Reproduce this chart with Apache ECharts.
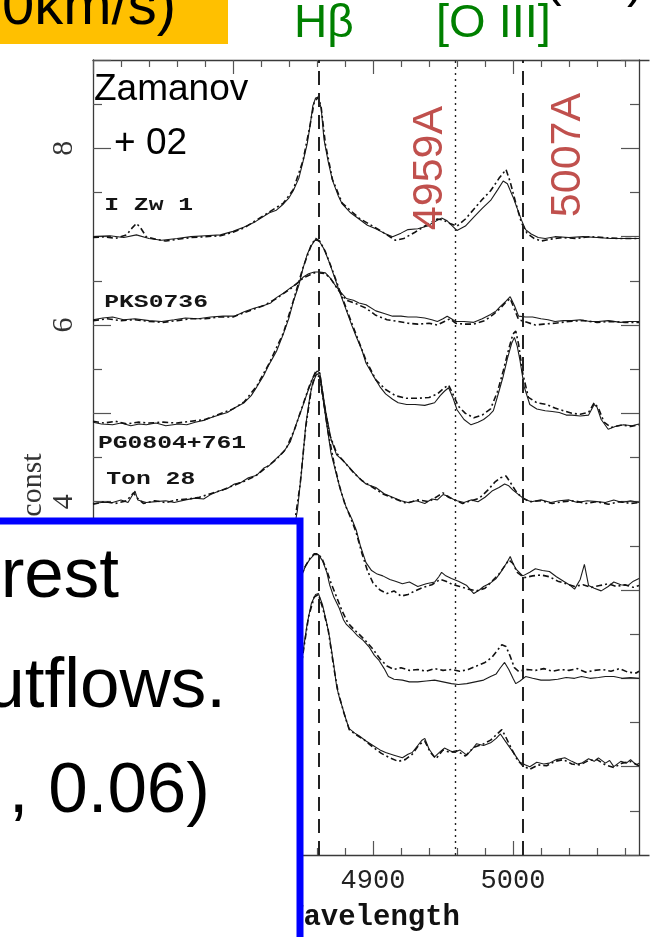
<!DOCTYPE html>
<html><head><meta charset="utf-8">
<script src="https://cdn.jsdelivr.net/npm/echarts@6/dist/echarts.min.js"></script>
<style>html,body{margin:0;padding:0;background:#fff}#c{width:653px;height:937px}</style>
</head><body><div id="c"></div>
<script>
// ---- data (wavelength in Angstrom, flux + const) ----
const iZw1Solid = [[4700,7.00],[4712,7.01],[4722,6.99],[4731,7.02],[4740,6.98],[4749,6.96],[4760,6.98],[4770,7.00],[4780,7.01],[4791,7.02],[4800,7.06],[4808,7.11],[4816,7.17],[4826,7.27],[4831,7.30],[4836,7.37],[4840,7.44],[4843,7.52],[4847,7.66],[4850,7.85],[4853,8.05],[4855,8.25],[4857,8.48],[4859,8.57],[4861,8.58],[4863,8.45],[4865,8.10],[4868,7.85],[4871,7.64],[4875,7.47],[4878,7.37],[4884,7.27],[4890,7.20],[4896,7.13],[4902,7.09],[4908,7.04],[4914,7.00],[4920,7.04],[4925,7.08],[4932,7.09],[4939,7.12],[4944,7.17],[4949,7.21],[4953,7.18],[4956,7.13],[4960,7.07],[4966,7.12],[4972,7.22],[4978,7.32],[4984,7.41],[4989,7.53],[4993,7.63],[4996,7.60],[5000,7.45],[5003,7.32],[5006,7.19],[5009,7.08],[5013,7.03],[5018,6.99],[5023,6.98],[5030,7.00],[5040,6.99],[5050,7.00],[5060,6.99],[5070,6.98],[5080,6.98],[5090,6.98]];
const iZw1Dash = [[4700,6.99],[4708,7.00],[4716,6.98],[4724,7.02],[4728,7.10],[4731,7.15],[4734,7.10],[4738,7.00],[4745,6.97],[4752,6.95],[4760,6.97],[4770,6.99],[4780,7.00],[4791,7.01],[4800,7.05],[4808,7.10],[4816,7.18],[4826,7.28],[4836,7.38],[4843,7.53],[4850,7.86],[4855,8.26],[4858,8.52],[4861,8.58],[4863,8.46],[4866,8.05],[4871,7.65],[4878,7.38],[4890,7.21],[4902,7.10],[4910,7.02],[4916,6.96],[4922,6.98],[4930,7.05],[4939,7.14],[4946,7.20],[4950,7.19],[4955,7.15],[4960,7.12],[4966,7.20],[4972,7.31],[4978,7.42],[4984,7.52],[4990,7.66],[4995,7.76],[4998,7.62],[5002,7.38],[5006,7.16],[5010,7.04],[5015,6.98],[5020,6.95],[5026,6.97],[5035,6.99],[5045,6.98],[5055,7.00],[5065,6.99],[5075,6.98],[5090,6.98]];
const pksSolid = [[4700,6.06],[4707,6.08],[4714,6.09],[4722,6.06],[4730,6.07],[4740,6.05],[4749,6.04],[4758,6.06],[4766,6.08],[4775,6.07],[4784,6.09],[4793,6.10],[4801,6.10],[4808,6.15],[4815,6.19],[4822,6.22],[4827,6.25],[4831,6.31],[4836,6.36],[4841,6.42],[4846,6.47],[4850,6.54],[4854,6.58],[4858,6.60],[4862,6.60],[4866,6.59],[4869,6.54],[4873,6.45],[4877,6.37],[4881,6.30],[4886,6.28],[4890,6.25],[4895,6.23],[4902,6.16],[4908,6.13],[4914,6.10],[4920,6.10],[4925,6.09],[4931,6.09],[4937,6.08],[4942,6.06],[4946,6.04],[4950,6.07],[4953,6.10],[4956,6.07],[4959,6.04],[4965,6.04],[4972,6.03],[4978,6.07],[4984,6.12],[4988,6.16],[4991,6.21],[4995,6.27],[4998,6.32],[5001,6.22],[5004,6.10],[5009,6.09],[5014,6.09],[5020,6.07],[5025,6.06],[5030,6.04],[5036,6.05],[5042,6.05],[5048,6.06],[5055,6.04],[5061,6.04],[5068,6.05],[5077,6.03],[5083,6.04],[5090,6.04]];
const pksDash = [[4700,6.05],[4710,6.07],[4720,6.05],[4730,6.06],[4740,6.04],[4750,6.03],[4760,6.05],[4770,6.07],[4780,6.07],[4790,6.09],[4800,6.09],[4808,6.14],[4815,6.18],[4822,6.22],[4831,6.30],[4841,6.41],[4850,6.53],[4858,6.59],[4862,6.59],[4866,6.58],[4870,6.52],[4875,6.40],[4881,6.28],[4888,6.24],[4895,6.19],[4902,6.11],[4910,6.06],[4918,6.04],[4925,6.02],[4932,6.01],[4940,6.02],[4946,6.00],[4951,6.04],[4955,6.07],[4959,6.02],[4965,6.01],[4972,6.01],[4980,6.05],[4986,6.12],[4991,6.19],[4995,6.26],[4998,6.30],[5001,6.18],[5004,6.06],[5010,6.03],[5016,6.00],[5022,6.01],[5030,6.02],[5040,6.04],[5050,6.05],[5060,6.03],[5070,6.04],[5080,6.03],[5090,6.03]];
const pg0804Solid = [[4700,4.90],[4706,4.88],[4714,4.87],[4720,4.89],[4727,4.86],[4733,4.88],[4738,4.87],[4745,4.89],[4752,4.86],[4761,4.88],[4767,4.87],[4773,4.90],[4779,4.92],[4784,4.95],[4790,4.98],[4796,5.01],[4802,5.07],[4808,5.12],[4813,5.20],[4817,5.30],[4822,5.43],[4826,5.56],[4831,5.70],[4836,5.90],[4840,6.08],[4843,6.26],[4847,6.45],[4850,6.64],[4853,6.80],[4856,6.90],[4859,6.97],[4862,6.94],[4865,6.86],[4869,6.70],[4873,6.52],[4876,6.38],[4879,6.25],[4882,6.12],[4885,5.99],[4888,5.87],[4892,5.72],[4895,5.57],[4900,5.43],[4905,5.30],[4909,5.22],[4914,5.16],[4918,5.12],[4924,5.10],[4930,5.10],[4937,5.09],[4944,5.12],[4948,5.20],[4951,5.25],[4954,5.29],[4957,5.18],[4960,5.04],[4965,4.93],[4970,4.87],[4975,4.90],[4979,4.93],[4983,4.98],[4986,5.03],[4990,5.25],[4993,5.42],[4996,5.62],[4999,5.79],[5001,5.86],[5003,5.76],[5005,5.60],[5008,5.30],[5012,5.10],[5017,5.05],[5023,5.03],[5028,5.02],[5033,5.01],[5038,4.98],[5042,4.98],[5048,4.97],[5054,4.98],[5058,5.10],[5060,5.07],[5063,4.93],[5068,4.82],[5073,4.85],[5079,4.87],[5085,4.86],[5090,4.88]];
const pg0804Dash = [[4700,4.91],[4708,4.89],[4716,4.91],[4724,4.88],[4732,4.90],[4740,4.89],[4750,4.90],[4760,4.89],[4770,4.91],[4780,4.93],[4790,4.99],[4800,5.05],[4808,5.13],[4817,5.31],[4826,5.57],[4836,5.91],[4843,6.27],[4850,6.65],[4856,6.91],[4859,6.98],[4862,6.95],[4866,6.83],[4871,6.62],[4876,6.40],[4882,6.14],[4888,5.89],[4895,5.60],[4902,5.38],[4909,5.27],[4916,5.20],[4924,5.17],[4932,5.17],[4940,5.18],[4946,5.22],[4951,5.29],[4954,5.32],[4957,5.22],[4961,5.08],[4966,5.00],[4972,4.95],[4978,4.98],[4984,5.05],[4989,5.25],[4993,5.48],[4997,5.73],[5000,5.90],[5002,5.93],[5004,5.78],[5007,5.45],[5011,5.18],[5017,5.12],[5024,5.10],[5030,5.06],[5036,5.03],[5042,5.00],[5048,4.99],[5054,5.01],[5058,5.12],[5061,5.06],[5065,4.90],[5070,4.84],[5078,4.87],[5084,4.85],[5090,4.87]];
const ton28Solid = [[4700,3.98],[4706,3.99],[4714,3.99],[4720,4.02],[4725,3.99],[4728,4.07],[4730,4.12],[4732,4.02],[4738,3.99],[4745,4.00],[4752,4.01],[4758,3.99],[4766,4.02],[4773,4.04],[4779,4.03],[4784,4.08],[4790,4.12],[4796,4.15],[4801,4.20],[4806,4.22],[4811,4.27],[4817,4.30],[4822,4.38],[4826,4.41],[4831,4.49],[4836,4.56],[4841,4.68],[4845,4.87],[4850,5.09],[4853,5.23],[4857,5.40],[4860,5.48],[4862,5.46],[4864,5.25],[4866,5.04],[4870,4.71],[4874,4.53],[4879,4.46],[4884,4.37],[4890,4.27],[4895,4.20],[4902,4.16],[4908,4.09],[4914,4.05],[4920,4.01],[4925,3.99],[4931,4.01],[4937,3.98],[4942,4.03],[4946,4.02],[4950,4.08],[4954,4.06],[4957,4.03],[4960,4.01],[4965,3.99],[4970,4.02],[4975,4.00],[4980,4.05],[4985,4.12],[4990,4.16],[4994,4.20],[4997,4.18],[5000,4.13],[5004,4.08],[5008,4.03],[5013,4.00],[5020,4.02],[5027,3.99],[5033,4.01],[5040,4.02],[5046,3.99],[5053,4.01],[5060,4.00],[5066,3.99],[5072,4.02],[5078,3.99],[5084,4.01],[5090,3.99]];
const ton28Dash = [[4700,3.97],[4708,4.00],[4716,3.98],[4724,4.01],[4729,4.10],[4731,4.05],[4736,3.98],[4744,4.01],[4752,3.99],[4760,4.02],[4768,4.03],[4776,4.05],[4784,4.09],[4792,4.13],[4800,4.18],[4808,4.23],[4816,4.29],[4824,4.39],[4831,4.48],[4838,4.60],[4844,4.82],[4850,5.10],[4855,5.33],[4859,5.47],[4862,5.45],[4865,5.12],[4869,4.76],[4874,4.55],[4880,4.44],[4886,4.33],[4892,4.24],[4900,4.16],[4908,4.08],[4916,4.03],[4924,3.98],[4932,4.02],[4940,4.00],[4946,4.06],[4950,4.10],[4954,4.05],[4958,4.02],[4964,3.98],[4970,4.01],[4976,4.04],[4982,4.13],[4987,4.22],[4991,4.27],[4995,4.29],[4998,4.22],[5002,4.12],[5006,4.05],[5012,4.00],[5020,4.01],[5028,3.98],[5036,4.00],[5044,4.01],[5052,3.98],[5060,4.00],[5068,3.97],[5076,4.00],[5084,3.98],[5090,3.99]];
const spec5Solid = [[4838,3.30],[4842,3.55],[4846,3.90],[4849,4.35],[4852,4.87],[4855,5.20],[4857,5.35],[4860,5.45],[4862,5.42],[4864,5.20],[4867,4.87],[4870,4.55],[4874,4.30],[4877,4.12],[4881,3.93],[4885,3.80],[4888,3.68],[4891,3.50],[4895,3.31],[4899,3.22],[4903,3.18],[4907,3.16],[4912,3.12],[4916,3.10],[4921,3.07],[4926,3.09],[4932,3.04],[4938,3.07],[4944,3.09],[4947,3.15],[4949,3.20],[4952,3.16],[4956,3.13],[4961,3.10],[4967,3.05],[4972,2.96],[4976,3.00],[4979,3.04],[4984,3.08],[4988,3.13],[4992,3.22],[4996,3.32],[4998,3.38],[5000,3.30],[5002,3.24],[5007,3.16],[5012,3.20],[5016,3.24],[5021,3.22],[5026,3.21],[5031,3.15],[5037,3.09],[5041,3.05],[5044,3.01],[5048,3.12],[5051,3.29],[5054,3.05],[5058,3.02],[5063,2.99],[5068,3.04],[5072,3.09],[5077,3.06],[5082,3.05],[5086,3.10],[5090,3.13]];
const spec5Dash = [[4838,3.28],[4843,3.65],[4848,4.20],[4852,4.85],[4856,5.28],[4859,5.44],[4862,5.41],[4865,5.10],[4868,4.78],[4872,4.45],[4876,4.18],[4880,3.97],[4884,3.82],[4888,3.65],[4892,3.42],[4896,3.22],[4900,3.08],[4905,3.00],[4910,2.96],[4915,2.99],[4920,2.93],[4925,2.95],[4930,2.99],[4936,3.03],[4942,3.06],[4948,3.12],[4952,3.10],[4957,3.06],[4962,3.04],[4968,3.01],[4974,2.99],[4980,3.02],[4985,3.10],[4990,3.18],[4994,3.27],[4997,3.34],[5000,3.30],[5003,3.20],[5008,3.14],[5014,3.16],[5020,3.17],[5026,3.15],[5032,3.10],[5038,3.07],[5044,3.04],[5050,3.06],[5056,3.03],[5062,3.05],[5068,3.07],[5074,3.04],[5080,3.06],[5086,3.03],[5090,3.05]];
const spec6Solid = [[4843,2.80],[4846,2.98],[4849,3.16],[4852,3.28],[4855,3.35],[4858,3.40],[4861,3.40],[4864,3.33],[4867,3.20],[4869,3.06],[4872,2.92],[4876,2.79],[4879,2.66],[4881,2.61],[4885,2.55],[4889,2.48],[4893,2.43],[4897,2.36],[4901,2.26],[4904,2.21],[4908,2.11],[4911,2.02],[4915,1.99],[4921,1.98],[4926,1.96],[4932,1.96],[4938,1.97],[4944,1.98],[4950,1.96],[4956,1.94],[4961,1.93],[4967,1.94],[4973,1.96],[4979,1.98],[4984,2.02],[4988,2.05],[4991,2.12],[4994,2.18],[4997,2.10],[5000,2.00],[5002,1.94],[5005,1.97],[5009,2.02],[5014,2.00],[5020,1.98],[5026,1.98],[5032,1.99],[5038,2.01],[5044,2.00],[5049,2.02],[5055,2.00],[5061,2.01],[5066,2.02],[5072,2.02],[5078,2.00],[5084,2.01],[5090,2.00]];
const spec6Dash = [[4843,2.80],[4847,3.05],[4851,3.25],[4855,3.36],[4858,3.41],[4861,3.41],[4864,3.34],[4867,3.22],[4870,3.08],[4874,2.92],[4878,2.76],[4882,2.63],[4886,2.56],[4890,2.50],[4895,2.42],[4900,2.33],[4905,2.22],[4910,2.14],[4915,2.10],[4920,2.12],[4926,2.09],[4932,2.10],[4938,2.08],[4944,2.11],[4950,2.09],[4956,2.10],[4962,2.08],[4968,2.10],[4974,2.14],[4980,2.18],[4985,2.24],[4989,2.32],[4992,2.38],[4995,2.36],[4998,2.25],[5001,2.12],[5004,2.08],[5010,2.10],[5016,2.09],[5022,2.11],[5028,2.08],[5034,2.10],[5040,2.09],[5046,2.11],[5052,2.07],[5058,2.09],[5064,2.10],[5070,2.08],[5076,2.11],[5082,2.07],[5088,2.06],[5090,2.08]];
const spec7Solid = [[4843,1.55],[4847,1.95],[4850,2.30],[4853,2.62],[4856,2.85],[4859,2.95],[4861,2.96],[4864,2.83],[4867,2.62],[4869,2.46],[4872,2.15],[4874,1.91],[4876,1.78],[4878,1.68],[4881,1.52],[4883,1.43],[4887,1.38],[4890,1.35],[4895,1.29],[4900,1.24],[4905,1.19],[4909,1.16],[4915,1.13],[4921,1.10],[4925,1.14],[4928,1.16],[4932,1.24],[4935,1.30],[4937,1.32],[4940,1.20],[4944,1.11],[4948,1.17],[4951,1.21],[4955,1.18],[4958,1.16],[4962,1.19],[4967,1.13],[4971,1.20],[4974,1.26],[4979,1.24],[4984,1.27],[4988,1.32],[4991,1.37],[4994,1.30],[4998,1.21],[5002,1.12],[5005,1.05],[5009,1.02],[5012,1.00],[5017,1.05],[5022,1.03],[5026,1.04],[5031,1.08],[5037,1.10],[5042,1.06],[5046,1.03],[5049,1.04],[5054,1.09],[5058,1.06],[5061,1.10],[5066,1.04],[5069,1.07],[5072,1.00],[5077,1.06],[5081,1.04],[5084,1.08],[5088,1.02],[5090,1.04]];
const spec7Dash = [[4843,1.50],[4847,1.92],[4850,2.28],[4854,2.70],[4858,2.92],[4861,2.95],[4864,2.80],[4868,2.55],[4872,2.12],[4875,1.85],[4879,1.62],[4883,1.42],[4888,1.36],[4894,1.30],[4900,1.22],[4906,1.15],[4912,1.10],[4918,1.06],[4923,1.08],[4928,1.14],[4933,1.25],[4937,1.29],[4941,1.16],[4945,1.09],[4950,1.19],[4955,1.16],[4960,1.18],[4966,1.12],[4972,1.22],[4978,1.25],[4984,1.30],[4988,1.36],[4992,1.42],[4995,1.33],[4999,1.20],[5003,1.08],[5007,1.01],[5012,0.97],[5018,1.02],[5024,1.01],[5030,1.06],[5036,1.08],[5042,1.03],[5048,1.02],[5054,1.07],[5060,1.08],[5066,1.02],[5072,0.99],[5078,1.04],[5084,1.06],[5090,1.01]];

const solidSeries = [iZw1Solid, pksSolid, pg0804Solid, ton28Solid, spec5Solid, spec6Solid, spec7Solid];
const dashSeries  = [iZw1Dash, pksDash, pg0804Dash, ton28Dash, spec5Dash, spec6Dash, spec7Dash];

// rest wavelengths of the marked lines
const lineWaves = [4861, 4959, 5007];

// object labels: name, wavelength, flux
const objNames = ['I Zw 1', 'PKS0736', 'PG0804+761', 'Ton 28'];
const objWave  = [4708, 4708, 4703.5, 4709.5];
const objFlux  = [7.36, 6.26, 4.66, 4.25];

// axis ranges
const xMin = 4700, xMax = 5100, xStep = 100;
const yMin = 0, yMax = 9, yStep = 1;

const chart = echarts.init(document.getElementById('c'), null, {renderer: 'canvas'});

const axisLineStyle = {color: '#3a3a3a', width: 1.3};
const tickStyle = {color: '#555', width: 1.2};

const series = [];
solidSeries.forEach((d) => series.push({
  type: 'line', data: d, showSymbol: false, symbol: 'none', silent: true,
  lineStyle: {color: '#1c1c1c', width: 1.1}, z: 3
}));
dashSeries.forEach((d) => series.push({
  type: 'line', data: d, showSymbol: false, symbol: 'none', silent: true,
  lineStyle: {color: '#111', width: 1.6, type: [6, 3, 2, 3]}, z: 3
}));
series.push({
  type: 'line', data: [], silent: true,
  markLine: {
    symbol: ['none', 'none'], silent: true, label: {show: false}, animation: false,
    data: [
      {xAxis: lineWaves[0], lineStyle: {color: '#222', width: 2, type: [14, 8]}},
      {xAxis: lineWaves[1], lineStyle: {color: '#222', width: 1.4, type: [2, 4]}},
      {xAxis: lineWaves[2], lineStyle: {color: '#222', width: 2, type: [14, 8]}}
    ]
  }
});
series.push({
  type: 'custom', silent: true, z: 4,
  data: objWave.map((w, i) => [w, objFlux[i]]),
  encode: {x: 0, y: 1},
  renderItem: (params, api) => {
    const p = api.coord([api.value(0), api.value(1)]);
    return {type: 'text', x: p[0], y: p[1], scaleX: 1.3,
      style: {text: objNames[params.dataIndex], font: 'bold 19px "Liberation Mono"', fill: '#151515', align: 'left', verticalAlign: 'middle'}};
  }
});

const monoTick = {fontFamily: 'Liberation Mono', fontSize: 27, color: '#222'};

chart.setOption({
  animation: false,
  backgroundColor: '#fff',
  grid: {left: 93, top: 60, width: 569, height: 812, containLabel: false},
  xAxis: [
    {type: 'value', position: 'bottom', min: xMin, max: xMax, interval: xStep,
      axisLine: {show: true, onZero: false, lineStyle: axisLineStyle},
      axisTick: {show: true, inside: true, length: 14, lineStyle: tickStyle},
      minorTick: {show: true, splitNumber: 5, length: 7, lineStyle: tickStyle},
      splitLine: {show: false}, minorSplitLine: {show: false},
      axisLabel: Object.assign({margin: 12, showMaxLabel: false, formatter: v => String(v)}, monoTick),
      name: 'Wavelength', nameLocation: 'middle', nameGap: 48,
      nameTextStyle: {fontFamily: 'Liberation Mono', fontWeight: 'bold', fontSize: 29, color: '#111'}},
    {type: 'value', position: 'top', min: xMin, max: xMax, interval: xStep,
      axisLine: {show: true, onZero: false, lineStyle: axisLineStyle},
      axisTick: {show: true, inside: true, length: 14, lineStyle: tickStyle},
      minorTick: {show: true, splitNumber: 5, length: 7, lineStyle: tickStyle},
      splitLine: {show: false}, axisLabel: {show: false}}
  ],
  yAxis: [
    {type: 'value', position: 'left', min: yMin, max: yMax, interval: yStep,
      axisLine: {show: true, onZero: false, lineStyle: axisLineStyle},
      axisTick: {show: true, inside: true, length: 18, lineStyle: tickStyle},
      minorTick: {show: true, splitNumber: 2, length: 9, lineStyle: tickStyle},
      splitLine: {show: false}, minorSplitLine: {show: false},
      axisLabel: {rotate: 90, margin: 14, fontFamily: 'Liberation Serif', fontSize: 30, color: '#333',
        formatter: v => (v % 2 === 0 && v > 0) ? String(v) : ''}},
    {type: 'value', position: 'right', offset: -14, min: yMin, max: yMax, interval: yStep,
      axisLine: {show: true, onZero: false, lineStyle: axisLineStyle},
      axisTick: {show: true, inside: true, length: 18, lineStyle: tickStyle},
      minorTick: {show: true, splitNumber: 2, length: 9, lineStyle: tickStyle},
      splitLine: {show: false}, axisLabel: {show: false}}
  ],
  series: series,
  graphic: [
    {type: 'rect', z: 90, shape: {x: 649.5, y: 40, width: 10, height: 850}, style: {fill: '#fff'}},
    {type: 'rect', z: 100, shape: {x: 0, y: 0, width: 228, height: 44}, style: {fill: '#FFC000'}},
    {type: 'text', z: 101, x: 176, y: 28 - 0.35 * 58, style: {text: '0km/s)', font: '58px "Liberation Sans"', fill: '#000', align: 'right', verticalAlign: 'middle'}},
    {type: 'text', z: 101, x: 545, y: 0 - 0.35 * 50, style: {text: '(', font: '50px "Liberation Sans"', fill: '#000', align: 'left', verticalAlign: 'middle'}},
    {type: 'text', z: 101, x: 627, y: 1 - 0.35 * 50, style: {text: ')', font: '50px "Liberation Sans"', fill: '#000', align: 'left', verticalAlign: 'middle'}},
    {type: 'text', z: 101, x: 294, y: 40 - 0.35 * 46, style: {text: 'H\u03b2', font: '46px "Liberation Sans"', fill: '#008000', align: 'left', verticalAlign: 'middle'}},
    {type: 'text', z: 101, x: 436, y: 40 - 0.35 * 47, style: {text: '[O III]', font: '47px "Liberation Sans"', fill: '#008000', align: 'left', verticalAlign: 'middle'}},
    {type: 'text', z: 101, x: 94, y: 103 - 0.35 * 37, style: {text: 'Zamanov', font: '37px "Liberation Sans"', fill: '#000', align: 'left', verticalAlign: 'middle'}},
    {type: 'text', z: 101, x: 114, y: 157 - 0.35 * 37, style: {text: '+ 02', font: '37px "Liberation Sans"', fill: '#000', align: 'left', verticalAlign: 'middle'}},
    {type: 'text', z: 101, x: 430, y: 168, rotation: Math.PI / 2, style: {text: '4959A', font: '43px "Liberation Sans"', fill: '#C0504D', align: 'center', verticalAlign: 'middle'}},
    {type: 'text', z: 101, x: 568, y: 155, rotation: Math.PI / 2, style: {text: '5007A', font: '43px "Liberation Sans"', fill: '#C0504D', align: 'center', verticalAlign: 'middle'}},
    {type: 'text', z: 101, x: 33, y: 485, rotation: Math.PI / 2, style: {text: 'const', font: '30px "Liberation Serif"', fill: '#333', align: 'center', verticalAlign: 'middle'}},
    {type: 'rect', z: 110, shape: {x: -10, y: 521, width: 310, height: 440}, style: {fill: '#fff', stroke: '#0000FF', lineWidth: 7}},
    {type: 'text', z: 111, x: 119, y: 602 - 0.35 * 71, style: {text: 'rest', font: '71px "Liberation Sans"', fill: '#000', align: 'right', verticalAlign: 'middle'}},
    {type: 'text', z: 111, x: 226, y: 712 - 0.35 * 71, style: {text: 'utflows.', font: '71px "Liberation Sans"', fill: '#000', align: 'right', verticalAlign: 'middle'}},
    {type: 'text', z: 111, x: 210, y: 817 - 0.35 * 71, style: {text: ', 0.06)', font: '71px "Liberation Sans"', fill: '#000', align: 'right', verticalAlign: 'middle'}}
  ]
});
</script></body></html>
